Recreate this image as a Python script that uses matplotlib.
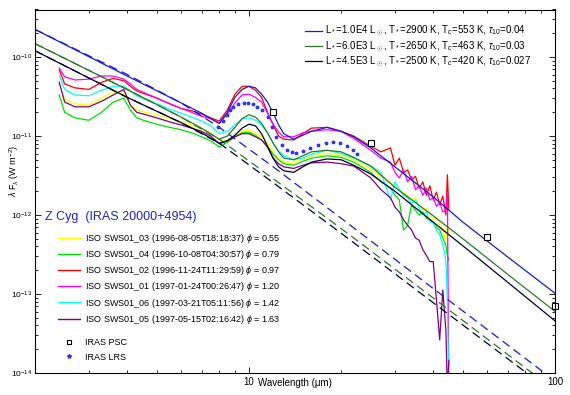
import numpy as np
import matplotlib
matplotlib.use('Agg')
from matplotlib import pyplot as plt
from matplotlib.lines import Line2D
from matplotlib.ticker import LogLocator, NullFormatter, FuncFormatter

plt.rcParams['font.family'] = ['Liberation Sans', 'DejaVu Sans']
plt.rcParams['mathtext.fontset'] = 'custom'
plt.rcParams['mathtext.rm'] = 'Liberation Sans'
plt.rcParams['mathtext.it'] = 'Liberation Sans:italic'
plt.rcParams['mathtext.bf'] = 'Liberation Sans:bold'

# ISO SWS wavelengths (micron), shared by the six spectra
wl_iso = [2.4, 2.5, 2.7, 3.0, 3.3, 3.6, 3.9, 4.1, 4.3, 4.6,
          5.0, 5.5, 6.0, 6.5, 7.0, 7.5, 8.0, 8.5, 9.0, 9.5,
          10, 10.5, 11, 11.5, 12, 12.5, 13, 14, 15, 16,
          18, 20, 22, 25, 27, 29, 30, 31, 32, 33,
          34, 35, 36, 37, 38, 39, 40, 41, 42, 43,
          44, 44.5, 45]

# log10(lambda F_lambda / W m-2)
sws_03 = [-10.34, -10.54, -10.59, -10.61, -10.52, -10.44, -10.44, -10.61, -10.67, -10.70,
          -10.73, -10.78, -10.82, -10.86, -10.91, -10.96, -11.05, -11.05, -11.00, -10.94,
          -10.92, -10.96, -11.01, -11.08, -11.20, -11.29, -11.33, -11.33, -11.29, -11.25,
          -11.22, -11.24, -11.30, -11.41, -11.51, -11.59, -11.63, -11.68, -11.71, -11.76,
          -11.81, -11.78, -11.87, -11.94, -11.91, -12.00, -12.06, -12.04, -12.13, -12.19,
          -12.32, -12.13, -12.25]
sws_04 = [-10.48, -10.70, -10.77, -10.80, -10.70, -10.57, -10.52, -10.67, -10.77, -10.81,
          -10.85, -10.89, -10.92, -10.96, -11.01, -11.06, -11.14, -11.08, -11.01, -10.96,
          -10.95, -10.99, -11.05, -11.13, -11.23, -11.30, -11.35, -11.37, -11.32, -11.28,
          -11.25, -11.27, -11.33, -11.46, -11.58, -11.66, -11.75, -11.81, -12.19, -12.13,
          -11.87, -11.94, -12.00, -11.96, -12.04, -12.06, -12.09, -12.16, -12.19, -12.29,
          -12.38, -12.51, -12.57]
sws_02 = [-10.16, -10.34, -10.39, -10.41, -10.32, -10.27, -10.30, -10.37, -10.43, -10.47,
          -10.52, -10.59, -10.65, -10.68, -10.72, -10.77, -10.81, -10.67, -10.47, -10.37,
          -10.37, -10.42, -10.51, -10.70, -10.86, -11.00, -11.04, -11.05, -10.97, -10.90,
          -10.89, -10.94, -11.00, -11.13, -11.20, -11.15, -11.37, -11.28, -11.46, -11.43,
          -11.56, -11.51, -11.66, -11.58, -11.75, -11.63, -11.81, -11.71, -11.87, -11.76,
          -12.00, -11.49, -11.94]
sws_01 = [-10.14, -10.25, -10.29, -10.28, -10.24, -10.24, -10.28, -10.34, -10.41, -10.46,
          -10.52, -10.59, -10.65, -10.70, -10.75, -10.78, -10.84, -10.72, -10.58, -10.48,
          -10.47, -10.51, -10.57, -10.71, -10.85, -10.95, -11.01, -11.01, -10.96, -10.94,
          -10.92, -10.94, -11.03, -11.18, -11.28, -11.33, -11.46, -11.53, -11.43, -11.58,
          -11.51, -11.68, -11.63, -11.75, -11.66, -11.81, -11.78, -11.89, -11.84, -11.96,
          -11.94, -11.72, -14.22]
sws_06 = [-10.23, -10.41, -10.48, -10.49, -10.42, -10.37, -10.37, -10.43, -10.49, -10.54,
          -10.59, -10.66, -10.71, -10.76, -10.81, -10.87, -10.97, -10.94, -10.86, -10.78,
          -10.77, -10.80, -10.86, -10.96, -11.09, -11.19, -11.25, -11.30, -11.28, -11.23,
          -11.18, -11.22, -11.28, -11.38, -11.46, -11.81, -11.58, -11.68, -11.75, -11.78,
          -11.86, -11.81, -11.91, -12.00, -11.96, -12.09, -12.09, -12.19, -12.25, -12.38,
          -12.57, -13.08, -14.22]
sws_05 = [-10.32, -10.57, -10.63, -10.63, -10.56, -10.48, -10.41, -10.61, -10.70, -10.73,
          -10.77, -10.82, -10.86, -10.90, -10.94, -11.00, -11.10, -11.06, -11.01, -10.97,
          -10.97, -11.01, -11.05, -11.14, -11.28, -11.35, -11.39, -11.41, -11.37, -11.34,
          -11.33, -11.35, -11.38, -11.53, -11.68, -11.78, -11.90, -11.96, -12.06, -12.13,
          -12.19, -12.29, -12.32, -12.44, -12.51, -12.59, -12.59, -13.08, -13.58, -12.95,
          -13.46, -14.22, -13.84]

sws_labels = ['ISO SWS01_03 (1996-08-05T18:18:37) $\\phi$ = 0.55',
              'ISO SWS01_04 (1996-10-08T04:30:57) $\\phi$ = 0.79',
              'ISO SWS01_02 (1996-11-24T11:29:59) $\\phi$ = 0.97',
              'ISO SWS01_01 (1997-01-24T00:26:47) $\\phi$ = 1.20',
              'ISO SWS01_06 (1997-03-21T05:11:56) $\\phi$ = 1.42',
              'ISO SWS01_05 (1997-05-15T02:16:42) $\\phi$ = 1.63']
sws_colors = ['#ffff00', '#00e000', '#ff0000', '#ff00ff', '#00ffff', '#800080']

# model fits (star + dust shell), log10 flux
wl_mod = [2, 4, 6, 7, 8, 8.5, 9, 9.5, 10, 10.5, 11, 11.5, 12, 12.5,
          13, 14, 15, 16, 18, 20, 22, 25, 30, 40, 50, 70, 100]
mod_a = [-9.65, -10.24, -10.58, -10.71, -10.84, -10.70, -10.51, -10.41, -10.37, -10.39,
         -10.47, -10.57, -10.71, -10.86, -10.97, -11.04, -10.99, -10.94, -10.89, -10.94,
         -11.01, -11.15, -11.39, -11.77, -12.09, -12.53, -12.99]
mod_b = [-9.83, -10.41, -10.76, -10.90, -11.04, -11.00, -10.89, -10.78, -10.73, -10.76,
         -10.84, -10.96, -11.09, -11.20, -11.28, -11.30, -11.25, -11.20, -11.18, -11.20,
         -11.27, -11.38, -11.65, -12.01, -12.30, -12.75, -13.22]
mod_c = [-9.92, -10.51, -10.83, -10.96, -11.09, -11.06, -10.99, -10.90, -10.85, -10.87,
         -10.97, -11.13, -11.28, -11.39, -11.44, -11.46, -11.39, -11.33, -11.29, -11.30,
         -11.37, -11.48, -11.70, -12.09, -12.39, -12.85, -13.34]

# naked photospheres (dashed)
wl_star = [2, 4, 6, 8, 12, 20, 40, 100]
star_a = [-9.65, -10.22, -10.58, -10.89, -11.39, -12.04, -12.93, -14.10]
star_b = [-9.83, -10.41, -10.76, -11.04, -11.54, -12.17, -13.05, -14.22]
star_c = [-9.92, -10.51, -10.83, -11.09, -11.59, -12.23, -13.11, -14.27]

mod_labels = [r'L$_*$=1.0E4 L$_\odot$, T$_*$=2900 K, T$_c$=553 K, $\tau_{10}$=0.04',
              r'L$_*$=6.0E3 L$_\odot$, T$_*$=2650 K, T$_c$=463 K, $\tau_{10}$=0.03',
              r'L$_*$=4.5E3 L$_\odot$, T$_*$=2500 K, T$_c$=420 K, $\tau_{10}$=0.027']
mod_colors = ['#1a1ad6', '#2a7a2a', '#000033']

# IRAS
psc_wl = [12, 25, 60, 100]
psc_f = [-10.69, -11.09, -12.28, -13.15]
lrs_wl = [7.9, 8.2, 8.5, 8.7, 8.9, 9.2, 9.6, 9.9, 10.3, 10.6, 11.0, 11.5, 11.9, 12.3,
          12.8, 13.3, 13.8, 14.3, 15.0, 15.8, 16.8, 17.8, 18.8, 19.8, 20.9, 21.8, 22.5]
lrs_f = [-10.89, -10.81, -10.73, -10.67, -10.63, -10.59, -10.58, -10.58, -10.59, -10.63,
         -10.67, -10.76, -10.89, -11.01, -11.11, -11.18, -11.20, -11.22, -11.19, -11.15,
         -11.11, -11.09, -11.08, -11.09, -11.13, -11.18, -11.23]

fig = plt.figure(figsize=(5.7, 3.95), dpi=100)
ax = fig.add_axes([35 / 570, 1 - 373 / 395, 520 / 570, 363.5 / 395])
ax.set_xscale('log')
ax.set_yscale('log')

iso_series = [sws_03, sws_04, sws_02, sws_01, sws_06, sws_05]
iso_handles = []
for vals, col, lab in zip(iso_series, sws_colors, sws_labels):
    ax.plot(wl_iso, 10 ** np.array(vals), color=col, lw=0.9)
    iso_handles.append(Line2D([], [], color=col, lw=1.0, label=lab))

dash = (0, (7, 4))
mod_handles = []
for st, md, col, lab in zip([star_a, star_b, star_c], [mod_a, mod_b, mod_c], mod_colors, mod_labels):
    ax.plot(wl_star, 10 ** np.array(st), color=col, lw=0.9, ls=dash)
    ax.plot(wl_mod, 10 ** np.array(md), color=col, lw=0.9)
    mod_handles.append(Line2D([], [], color=col, lw=0.9, label=lab))

ax.plot(lrs_wl, 10 ** np.array(lrs_f), ls='none', marker='*', ms=2.5, color='#3333ff')
ax.plot(psc_wl, 10 ** np.array(psc_f), ls='none', marker='s', ms=4, mfc='white',
        mec='black', mew=0.8, clip_on=False)

ax.set_xlim(2, 100)
ax.set_ylim(1e-14, 4e-10)
ax.tick_params(which='both', direction='in', top=True, right=True, width=0.6)
ax.tick_params(which='major', length=4)
ax.tick_params(which='minor', length=2.5)
ax.tick_params(axis='x', labelsize=7, pad=3)
ax.tick_params(axis='y', labelsize=6, pad=2)
ax.xaxis.set_major_formatter(FuncFormatter(lambda v, p: f'{v:g}'))
ax.xaxis.set_minor_formatter(NullFormatter())
ax.yaxis.set_minor_locator(LogLocator(base=10, subs=range(2, 10), numticks=20))
ax.yaxis.set_minor_formatter(NullFormatter())
for sp in ax.spines.values():
    sp.set_linewidth(0.8)

ax.text(0.5, -0.028, 'Wavelength (μm)', transform=ax.transAxes, fontsize=7,
        ha='center', va='center')
ax.set_ylabel(r'$\lambda$ F$_\lambda$ (W m$^{-2}$)', fontsize=6.5)
ax.yaxis.set_label_coords(-0.026, 0.555)

leg1 = ax.legend(handles=mod_handles, loc='upper left', bbox_to_anchor=(0.519, 0.96),
                 frameon=False, fontsize=7, handlelength=1.8, handletextpad=0.3,
                 labelspacing=0.1, borderpad=0, borderaxespad=0)
ax.add_artist(leg1)

ax.text(0.019, 0.429, 'Z Cyg  (IRAS 20000+4954)', transform=ax.transAxes,
        fontsize=9, color='#2222cc', va='center', ha='left')

leg2 = ax.legend(handles=iso_handles, loc='upper left', bbox_to_anchor=(0.044, 0.388),
                 frameon=False, fontsize=6.5, handlelength=2.4, handletextpad=0.55,
                 labelspacing=0.35, borderpad=0, borderaxespad=0)
ax.add_artist(leg2)

iras_handles = [Line2D([], [], ls='none', marker='s', ms=3.5, mfc='white', mec='black',
                       mew=0.8, label='IRAS PSC'),
                Line2D([], [], ls='none', marker='*', ms=3, color='#3333ff', label='IRAS LRS')]
leg3 = ax.legend(handles=iras_handles, loc='upper left', bbox_to_anchor=(0.044, 0.096),
                 frameon=False, fontsize=6.5, handlelength=2.4, handletextpad=0.55,
                 labelspacing=0.6, borderpad=0, borderaxespad=0)

fig.savefig('out.png', dpi=100)
